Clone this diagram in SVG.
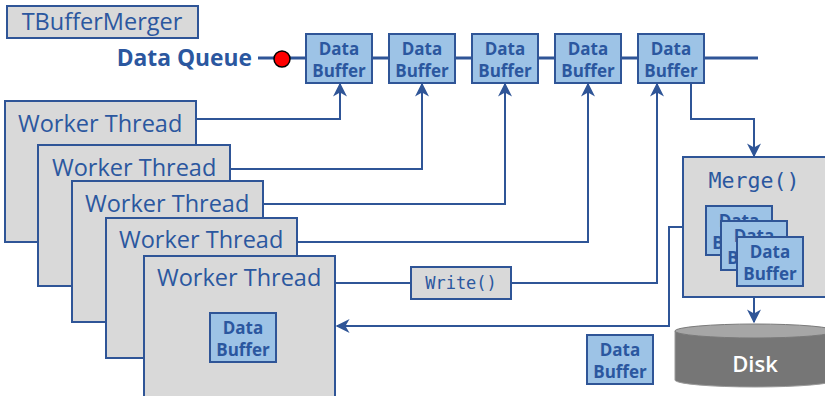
<svg xmlns="http://www.w3.org/2000/svg" width="825" height="396" viewBox="0 0 825 396">
  <style>
    .gray { fill: #d9d9d9; stroke: #2f5597; stroke-width: 2; }
    .buf { fill: #9dc3e6; stroke: #2f5597; stroke-width: 2; }
    .bt { font-family: "Open Sans", "DejaVu Sans", sans-serif; font-weight: bold; font-size: 17px; fill: #2b579f; text-anchor: middle; }
    .wt { font-family: "Open Sans", "DejaVu Sans", sans-serif; font-size: 23.5px; fill: #2b579f; }
    .mono { font-family: "DejaVu Sans Mono", "Liberation Mono", monospace; fill: #2b579f; }
    .wire { fill: none; stroke: #2f5597; stroke-width: 2; }
  </style>
  <defs>
    <marker id="arr" viewBox="0 0 10 10" refX="9" refY="5" markerWidth="7" markerHeight="7" orient="auto">
      <path d="M0,0 L10,5 L0,10 L3,5 Z" fill="#2f5597"/>
    </marker>
    <g id="buffer">
      <rect class="buf" x="0" y="0" width="66" height="49"/>
      <text class="bt" x="33" y="21">Data</text>
      <text class="bt" x="33" y="43">Buffer</text>
    </g>
  </defs>

  <!-- title -->
  <g id="title">
    <rect class="gray" x="7" y="6" width="191" height="32"/>
    <text class="wt" x="102" y="30" text-anchor="middle">TBufferMerger</text>
  </g>

  <!-- queue backbone -->
  <g id="queue">
    <text x="252" y="66" text-anchor="end" font-family="Open Sans, DejaVu Sans, sans-serif" font-weight="bold" font-size="22.8" fill="#2b579f">Data Queue</text>
    <line x1="258" y1="58" x2="758" y2="58" stroke="#2f5597" stroke-width="3"/>
    <circle cx="282" cy="59" r="8" fill="#ff0000" stroke="#000" stroke-width="1.5"/>
  </g>

  <g id="qbuf1"><use href="#buffer" x="306" y="34"/></g>
  <g id="qbuf2"><use href="#buffer" x="389" y="34"/></g>
  <g id="qbuf3"><use href="#buffer" x="472" y="34"/></g>
  <g id="qbuf4"><use href="#buffer" x="555" y="34"/></g>
  <g id="qbuf5"><use href="#buffer" x="638" y="34"/></g>

  <!-- worker threads -->
  <g id="worker1">
    <rect class="gray" x="5" y="101" width="191" height="141"/>
    <text class="wt" x="18" y="132">Worker Thread</text>
  </g>
  <g id="worker2">
    <rect class="gray" x="38" y="145" width="192" height="141"/>
    <text class="wt" x="52" y="176">Worker Thread</text>
  </g>
  <g id="worker3">
    <rect class="gray" x="72" y="181" width="191" height="141"/>
    <text class="wt" x="85" y="212">Worker Thread</text>
  </g>
  <g id="worker4">
    <rect class="gray" x="106" y="218" width="191" height="140"/>
    <text class="wt" x="119" y="248">Worker Thread</text>
  </g>
  <g id="worker5">
    <rect class="gray" x="144" y="256" width="191" height="145"/>
    <text class="wt" x="157" y="286">Worker Thread</text>
    <use href="#buffer" x="210" y="313"/>
  </g>

  <!-- Write() call -->
  <g id="write">
    <rect class="gray" x="411" y="267" width="100" height="32"/>
    <text class="mono" x="461" y="289" font-size="17" text-anchor="middle">Write()</text>
  </g>

  <!-- merge stage -->
  <g id="merge">
    <rect class="gray" x="683" y="157" width="150" height="140"/>
    <text class="mono" x="754" y="188" font-size="21.6" text-anchor="middle">Merge()</text>
    <use href="#buffer" x="706" y="206"/>
    <use href="#buffer" x="721" y="221"/>
    <use href="#buffer" x="737" y="237"/>
  </g>

  <!-- disk -->
  <g id="disk">
    <path d="M675,331 L675,380 A80,7 0 0 0 835,380 L835,331 Z" fill="#767676" stroke="#9a9a9a" stroke-width="1"/>
    <ellipse cx="755" cy="331" rx="80" ry="7" fill="#a6a6a6" stroke="#7a7a7a" stroke-width="1"/>
    <text x="755" y="372" text-anchor="middle" font-family="Open Sans, DejaVu Sans, sans-serif" font-weight="600" font-size="22" fill="#ffffff">Disk</text>
  </g>

  <!-- spare buffer -->
  <g id="spare"><use href="#buffer" x="587" y="335"/></g>

  <!-- connectors -->
  <g id="connectors">
    <polyline class="wire" points="196,119 340,119 340,84" marker-end="url(#arr)"/>
    <polyline class="wire" points="230,169 422,169 422,84" marker-end="url(#arr)"/>
    <polyline class="wire" points="263,204 505,204 505,84" marker-end="url(#arr)"/>
    <polyline class="wire" points="297,242 588,242 588,84" marker-end="url(#arr)"/>
    <line class="wire" x1="335" y1="283" x2="411" y2="283"/>
    <polyline class="wire" points="511,283 657,283 657,84" marker-end="url(#arr)"/>
    <polyline class="wire" points="691,83 691,119 754,119 754,156" marker-end="url(#arr)"/>
    <polyline class="wire" points="683,227 669,227 669,326 337,326" marker-end="url(#arr)"/>
    <line class="wire" x1="754" y1="297" x2="754" y2="322" marker-end="url(#arr)"/>
  </g>
</svg>
